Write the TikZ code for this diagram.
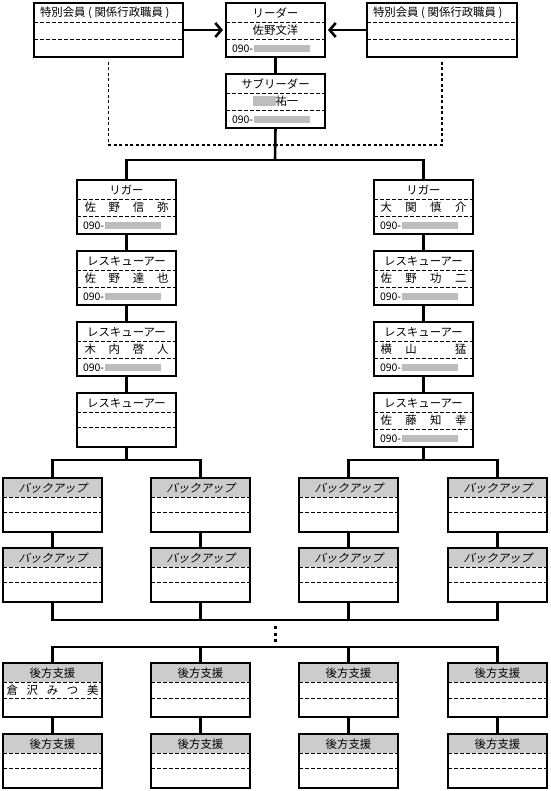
\documentclass[tikz,border=0pt]{standalone}
\usepackage{fontspec}
\setmainfont{Noto Sans CJK JP}
\newfontfamily\jpslant[FakeSlant=0.25]{Noto Sans CJK JP}
\usetikzlibrary{fit,arrows.meta}
\definecolor{hdrcol}{gray}{0.80}
\definecolor{blurcol}{gray}{0.74}
\newcommand\phonefont{\fontsize{10.5}{11}\selectfont}
\newcommand\dline[2]{\draw[dl] ([yshift=-#2pt]#1.north west) -- ([yshift=-#2pt]#1.north east);}
% person box: name, x1, y1, title, name text
\newcommand\person[5]{%
  \node[box, fit={(#2,#3) ({#2+99},{#3+54})}] (#1) {};
  \dline{#1}{19}\dline{#1}{36}
  \node[lbl] (#1-t) at ([yshift=-10pt]#1.north) {#4};
  \node[lbl] (#1-n) at ([yshift=-27.5pt]#1.north) {#5};
  \node[lbl, anchor=west, font=\phonefont] (#1-p) at ([xshift=6pt,yshift=-45.5pt]#1.north west) {090-};
  \fill[blurcol] ([xshift=0.5pt,yshift=-3.5pt]#1-p.east) rectangle ([xshift=57pt,yshift=3.5pt]#1-p.east);
}
% shaded-header box: name, x1, y1, title, second dashed line offset
\newcommand\shbox[5]{%
  \node[box, hdr, fit={(#2,#3) ({#2+99},{#3+54})}] (#1) {};
  \dline{#1}{19}\dline{#1}{#5}
  \node[lbl] (#1-t) at ([yshift=-10pt]#1.north) {#4};
}
\newcommand\tokubetsu{特別会員\makebox[9pt]{(}関係行政職員\makebox[9pt]{)}}
\begin{document}
\begin{tikzpicture}[x=1pt,y=-1pt, font=\fontsize{11.4}{12}\selectfont,
  box/.style={draw, line width=1.6pt, inner sep=0pt, outer sep=0pt},
  sbox/.style={draw, line width=2.6pt, inner sep=0pt, outer sep=0pt},
  hdr/.style={path picture={\fill[hdrcol] (path picture bounding box.north west) rectangle ([yshift=-19pt]path picture bounding box.north east);}},
  dl/.style={line width=0.7pt, dash pattern=on 3.5pt off 2.5pt},
  conn/.style={line width=2.6pt},
  dotconn/.style={line width=1.8pt, dash pattern=on 3pt off 2.5pt},
  lbl/.style={inner sep=0pt, outer sep=0pt, anchor=center}]
\useasboundingbox (0,0) rectangle (550,791);

% ---- top row
\node[sbox, fit={(34,3) (183,57)}] (S1) {};
\dline{S1}{19}\dline{S1}{36}
\node[lbl, anchor=west] (S1-t) at ([xshift=6pt,yshift=-10pt]S1.north west) {\tokubetsu};
\node[sbox, fit={(367,3) (517,57)}] (S2) {};
\dline{S2}{19}\dline{S2}{36}
\node[lbl, anchor=west] (S2-t) at ([xshift=6pt,yshift=-10pt]S2.north west) {\tokubetsu};

\person{LD}{226}{3}{リーダー}{佐野文洋}
\person{SL}{226}{74}{サブリーダー}{\hphantom{祐一}祐一}
\fill[blurcol] ([yshift=-5pt]SL-n.west) rectangle ([xshift=23pt,yshift=5pt]SL-n.west);

\draw[conn, -{Straight Barb[length=6pt,width=14pt]}, shorten >=3pt] (S1) -- (LD);
\draw[conn, -{Straight Barb[length=6pt,width=14pt]}, shorten >=3pt] (S2) -- (LD);

% ---- junctions
\coordinate (J) at (275,160);
\coordinate (DJ) at (275,145);
\draw[dotconn] ([yshift=-5pt]S1.south) |- (DJ);
\draw[dotconn] ([yshift=-5pt]S2.south) |- (DJ);
\draw[conn] (LD.south) -- (SL.north);
\draw[conn] (SL.south) -- (J);

% ---- columns
\person{L1}{77}{180}{リガー}{\makebox[84pt][s]{佐\hfill 野\hfill 信\hfill 弥}}
\person{L2}{77}{251}{レスキューアー}{\makebox[84pt][s]{佐\hfill 野\hfill 達\hfill 也}}
\person{L3}{77}{322}{レスキューアー}{\makebox[84pt][s]{木\hfill 内\hfill 啓\hfill 人}}
\node[box, fit={(77,393) (176,447)}] (L4) {};
\dline{L4}{19}\dline{L4}{34}
\node[lbl] (L4-t) at ([yshift=-10pt]L4.north) {レスキューアー};

\person{R1}{374}{180}{リガー}{\makebox[86pt][s]{大\hfill 関\hfill 慎\hfill 介}}
\person{R2}{374}{251}{レスキューアー}{\makebox[86pt][s]{佐\hfill 野\hfill 功\hfill 二}}
\person{R3}{374}{322}{レスキューアー}{\makebox[86pt][s]{横\hfill 山\hfill \hphantom{山}\hfill 猛}}
\person{R4}{374}{393}{レスキューアー}{\makebox[86pt][s]{佐\hfill 藤\hfill 知\hfill 幸}}

\draw[conn] (L1.north) -- (L1.north |- J) -- (R1.north |- J) -- (R1.north);
\draw[conn] (L1.south) -- (L2.north);
\draw[conn] (L2.south) -- (L3.north);
\draw[conn] (L3.south) -- (L4.north);
\draw[conn] (R1.south) -- (R2.north);
\draw[conn] (R2.south) -- (R3.north);
\draw[conn] (R3.south) -- (R4.north);

% ---- backups
\shbox{B11}{3}{478}{\jpslant バックアップ}{34}
\shbox{B12}{151}{478}{\jpslant バックアップ}{34}
\shbox{B13}{299}{478}{\jpslant バックアップ}{34}
\shbox{B14}{448}{478}{\jpslant バックアップ}{34}
\shbox{B21}{3}{548}{\jpslant バックアップ}{34}
\shbox{B22}{151}{548}{\jpslant バックアップ}{34}
\shbox{B23}{299}{548}{\jpslant バックアップ}{34}
\shbox{B24}{448}{548}{\jpslant バックアップ}{34}

\coordinate (M) at (0,460);
\draw[conn] (L4.south) -- (L4.south |- M);
\draw[conn] (R4.south) -- (R4.south |- M);
\draw[conn] (B11.north) -- (B11.north |- M) -- (B12.north |- M) -- (B12.north);
\draw[conn] (B13.north) -- (B13.north |- M) -- (B14.north |- M) -- (B14.north);
\draw[conn] (B11.south) -- (B21.north);
\draw[conn] (B12.south) -- (B22.north);
\draw[conn] (B13.south) -- (B23.north);
\draw[conn] (B14.south) -- (B24.north);

% ---- rear support
\coordinate (K1) at (275,620);
\coordinate (K2) at (275,647);
\draw[conn] (B21.south) -- (B21.south |- K1) -- (B24.south |- K1) -- (B24.south);
\draw[conn] (B22.south) -- (B22.south |- K1);
\draw[conn] (B23.south) -- (B23.south |- K1);
\draw[line width=3pt, dash pattern=on 3pt off 3.5pt, shorten <=6pt, shorten >=4pt] (K1) -- (K2);

\shbox{D11}{3}{663}{後方支援}{35}
\node[lbl] (D11-n) at ([yshift=-27pt]D11.north) {\makebox[92pt][s]{倉\hfill 沢\hfill み\hfill つ\hfill 美}};
\shbox{D12}{151}{663}{後方支援}{35}
\shbox{D13}{299}{663}{後方支援}{35}
\shbox{D14}{448}{663}{後方支援}{35}
\shbox{D21}{3}{734}{後方支援}{34}
\shbox{D22}{151}{734}{後方支援}{34}
\shbox{D23}{299}{734}{後方支援}{34}
\shbox{D24}{448}{734}{後方支援}{34}

\draw[conn] (D11.north) -- (D11.north |- K2) -- (D14.north |- K2) -- (D14.north);
\draw[conn] (D12.north) -- (D12.north |- K2);
\draw[conn] (D13.north) -- (D13.north |- K2);
\draw[conn] (D11.south) -- (D21.north);
\draw[conn] (D12.south) -- (D22.north);
\draw[conn] (D13.south) -- (D23.north);
\draw[conn] (D14.south) -- (D24.north);
\end{tikzpicture}
\end{document}
